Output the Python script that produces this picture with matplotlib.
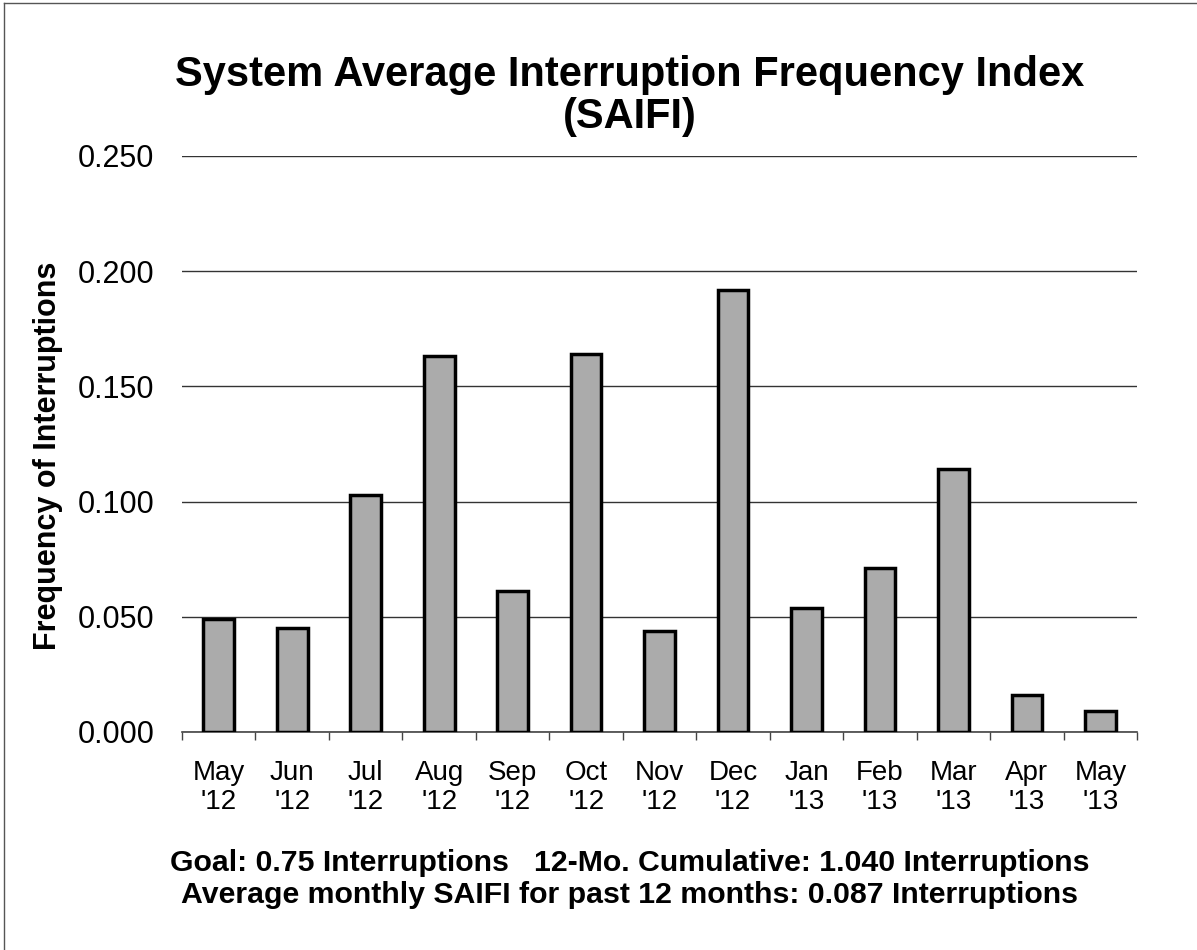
import matplotlib
matplotlib.use("Agg")
import matplotlib.pyplot as plt
from matplotlib.lines import Line2D
import numpy as np

plt.rcParams['font.family'] = ['Liberation Sans', 'DejaVu Sans']

# data
months = ["May\n'12", "Jun\n'12", "Jul\n'12", "Aug\n'12", "Sep\n'12", "Oct\n'12", "Nov\n'12",
          "Dec\n'12", "Jan\n'13", "Feb\n'13", "Mar\n'13", "Apr\n'13", "May\n'13"]
saifi = [0.049, 0.045, 0.103, 0.163, 0.061, 0.164, 0.044, 0.192, 0.054, 0.071, 0.114, 0.016, 0.009]
yticks = [0.0, 0.05, 0.10, 0.15, 0.20, 0.25]

title = "System Average Interruption Frequency Index\n(SAIFI)"
footer = ("Goal: 0.75 Interruptions   12-Mo. Cumulative: 1.040 Interruptions\n"
          "Average monthly SAIFI for past 12 months: 0.087 Interruptions")

fig = plt.figure(figsize=(11.97, 9.5), dpi=100)
ax = fig.add_axes([0.152, 0.2295, 0.798, 0.6063])

x = np.arange(len(months))
ax.bar(x, saifi, width=0.42, color='#ababab', edgecolor='black', linewidth=2.5, zorder=3)

ax.set_xlim(-0.5, len(months) - 0.5)
ax.set_ylim(0, 0.25)
ax.set_yticks(yticks)
ax.set_yticklabels([f"{v:.3f}" for v in yticks], fontsize=22)
ax.tick_params(axis='y', length=0, pad=20)
ax.yaxis.grid(True, color='#333333', linewidth=1.0, zorder=0)

# month labels in the middle, ticks on the category borders
ax.set_xticks(x)
ax.set_xticklabels(months, fontsize=20, linespacing=1.15)
ax.tick_params(axis='x', which='major', length=0, pad=20)
ax.set_xticks(np.arange(len(months) + 1) - 0.5, minor=True)
ax.tick_params(axis='x', which='minor', length=6, width=1, color='#444444', direction='out')

for s in ['top', 'right', 'left']:
    ax.spines[s].set_visible(False)
ax.spines['bottom'].set_color('#444444')
ax.spines['bottom'].set_linewidth(1.2)

fig.text(0.526, 0.899, title, ha='center', va='center', fontsize=30,
         fontweight='bold', linespacing=1.05)
fig.text(0.040, 0.52, "Frequency of Interruptions", rotation=90, ha='center',
         va='center', fontsize=22, fontweight='bold')
fig.text(0.526, 0.075, footer, ha='center', va='center', fontsize=21.8,
         fontweight='bold', linespacing=1.2)

# thin frame along the top and left edge of the scan
fig.add_artist(Line2D([0.003, 1.0], [0.997, 0.997], color='#555555', linewidth=1))
fig.add_artist(Line2D([0.003, 0.003], [0.0, 0.997], color='#555555', linewidth=1))

fig.savefig("out.png", dpi=100)
